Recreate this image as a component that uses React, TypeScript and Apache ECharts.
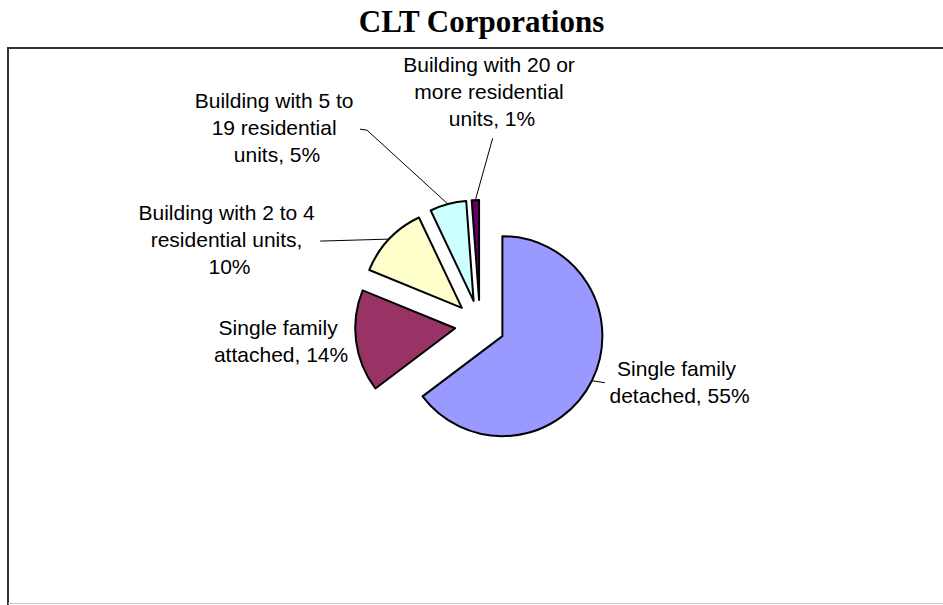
import React, { useEffect, useRef } from 'react';
import * as echarts from 'echarts';

// ---- data ----
const categories = [
  'Single family detached',
  'Single family attached',
  'Building with 2 to 4 residential units',
  'Building with 5 to 19 residential units',
  'Building with 20 or more residential units',
];
const shares = [55, 14, 10, 5, 1];
const titleText = 'CLT Corporations';

// ---- styles / layout ----
const colors = ['#9999FF', '#993366', '#FFFFCC', '#CCFFFF', '#660066'];
const CX = 480;
const CY = 325;
const R = 100;
const EXPLODE = 25;
const labelWidths = [160, 160, 190, 170, 190];
// text block centre relative to the slice's outer anchor point
const labelOffsets: number[][] = [
  [87.6, 1.3],
  [-75, 0],
  [-159.7, 0.6],
  [-171, -76.5],
  [16.6, -108.9],
];
// leader line points relative to the anchor (null = no leader)
const leaderPoints: (number[][] | null)[] = [
  [[13, 2]],
  null,
  [[-69, 2]],
  [[-81, -74], [-88, -75]],
  [[17.3, -61.8]],
];

function sliceDir(i: number) {
  const total = shares.reduce((a, b) => a + b, 0);
  let before = 0;
  for (let k = 0; k < i; k++) before += shares[k];
  const mid = ((before + shares[i] / 2) / total) * 2 * Math.PI;
  return [Math.sin(mid), -Math.cos(mid)];
}

export default function App() {
  const ref = useRef<HTMLDivElement>(null);
  useEffect(() => {
    if (!ref.current) return;
    const chart = echarts.init(ref.current, undefined, { renderer: 'svg' });
    const series = shares.map((_, i) => {
      const d = sliceDir(i);
      const cx = CX + EXPLODE * d[0];
      const cy = CY + EXPLODE * d[1];
      const ax = CX + (R + EXPLODE) * d[0];
      const ay = CY + (R + EXPLODE) * d[1];
      return {
        type: 'pie',
        center: [cx, cy],
        radius: R,
        startAngle: 90,
        clockwise: true,
        avoidLabelOverlap: false,
        silent: true,
        emphasis: { disabled: true },
        label: {
          position: 'outside',
          formatter: '{b}, {c}%',
          fontFamily: 'Liberation Sans, Arial, sans-serif',
          fontSize: 21,
          lineHeight: 27,
          color: '#000',
          width: labelWidths[i],
          overflow: 'break',
        },
        labelLine: { lineStyle: { color: '#000', width: 1 } },
        labelLayout: (p: any) => {
          if (p.dataIndex !== i) return {};
          const off = labelOffsets[i];
          const lp = leaderPoints[i];
          const res: any = {
            x: ax + off[0],
            y: ay + off[1],
            align: 'center',
            verticalAlign: 'middle',
          };
          if (lp) {
            res.labelLinePoints = [[ax, ay], ...lp.map((q) => [ax + q[0], ay + q[1]])];
          }
          return res;
        },
        data: categories.map((name, j) => ({
          name,
          value: shares[j],
          itemStyle:
            j === i
              ? { color: colors[j], borderColor: '#000', borderWidth: 2 }
              : { color: 'rgba(0,0,0,0)', borderWidth: 0 },
          label: { show: j === i },
          labelLine: { show: j === i && leaderPoints[j] != null },
        })),
      };
    });
    chart.setOption({
      animation: false,
      graphic: [
        {
          type: 'rect',
          z: -10,
          shape: { x: 8, y: 48, width: 960, height: 600 },
          style: { fill: 'none', stroke: '#333', lineWidth: 2 },
        },
        {
          type: 'line',
          z: -9,
          shape: { x1: 8, y1: 603.5, x2: 943, y2: 603.5 },
          style: { stroke: '#c8c8c8', lineWidth: 1 },
        },
        {
          type: 'text',
          x: 481.5,
          y: 21,
          style: {
            text: titleText,
            align: 'center',
            verticalAlign: 'middle',
            fontFamily: 'Liberation Serif, Times New Roman, serif',
            fontWeight: 'bold',
            fontSize: 31,
            fill: '#000',
          },
        },
      ],
      series,
    } as any);
    return () => chart.dispose();
  }, []);
  return (
    <div
      ref={ref}
      style={{ position: 'fixed', left: 0, top: 0, width: 943, height: 605, background: '#fff' }}
    />
  );
}
